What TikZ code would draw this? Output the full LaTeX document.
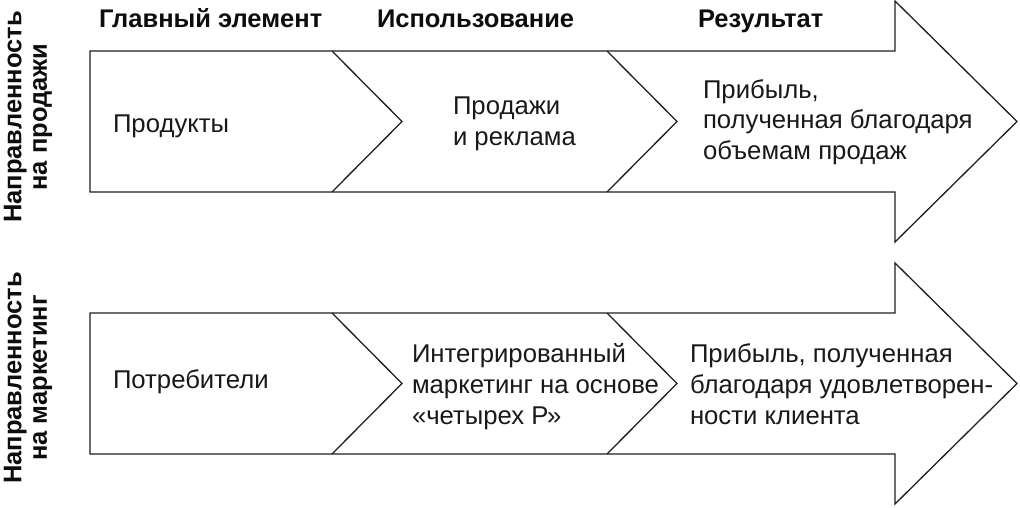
\documentclass[tikz,border=0pt]{standalone}
\usepackage{fontspec}
\setmainfont{Liberation Sans}
\begin{document}
\begin{tikzpicture}[x=1pt,y=-1pt,
  outline/.style={draw=black!88, line width=1.3pt, line join=miter, fill=white},
  sep/.style={draw=black!88, line width=1.3pt},
  txt/.style={inner sep=0pt, outer sep=0pt, text=black!90, align=left,
    font=\fontsize{25.7}{31}\selectfont, anchor=base west},
  head/.style={inner sep=0pt, outer sep=0pt, text=black!95,
    font=\fontsize{25.5}{26}\selectfont\bfseries, anchor=base west},
  side/.style={inner sep=0pt, outer sep=0pt, text=black!95, align=center,
    font=\fontsize{25.5}{25.5}\selectfont\bfseries, rotate=90}]
\useasboundingbox (0,0) rectangle (1020,508);
% top arrow
\draw[outline] (90,51) -- (895,51) -- (895,1) -- (1017,121.5) -- (895,242) -- (895,192) -- (90,192) -- cycle;
\draw[sep] (332,51) -- (402,121.5) -- (332,192);
\draw[sep] (607,51) -- (677,121.5) -- (607,192);
% bottom arrow
\draw[outline] (90,313) -- (895,313) -- (895,263) -- (1017,383.5) -- (895,504) -- (895,454) -- (90,454) -- cycle;
\draw[sep] (332,313) -- (402,383.5) -- (332,454);
\draw[sep] (607,313) -- (677,383.5) -- (607,454);
% headers
\node[head] (h1) at (99,28) {Главный элемент};
\node[head] (h2) at (377,28) {Использование};
\node[head] (h3) at (698,28) {Результат};
% side labels
\node[side] (s1) at (28,117) {Направленность\\на продажи};
\node[side] (s2) at (28,378) {Направленность\\на маркетинг};
% top row texts (base = last line)
\node[txt] (t1) at (113,133) {Продукты};
\node[txt] (t2) at (453,146) {Продажи\\и реклама};
\node[txt] (t3) at (703,160) {Прибыль,\\полученная благодаря\\объемам продаж};
% bottom row texts
\node[txt] (b1) at (113,388) {Потребители};
\node[txt] (b2) at (412,424) {Интегрированный\\маркетинг на основе\\«четырех Р»};
\node[txt] (b3) at (690,424) {Прибыль, полученная\\благодаря удовлетворен-\\ности клиента};
\end{tikzpicture}
\end{document}
